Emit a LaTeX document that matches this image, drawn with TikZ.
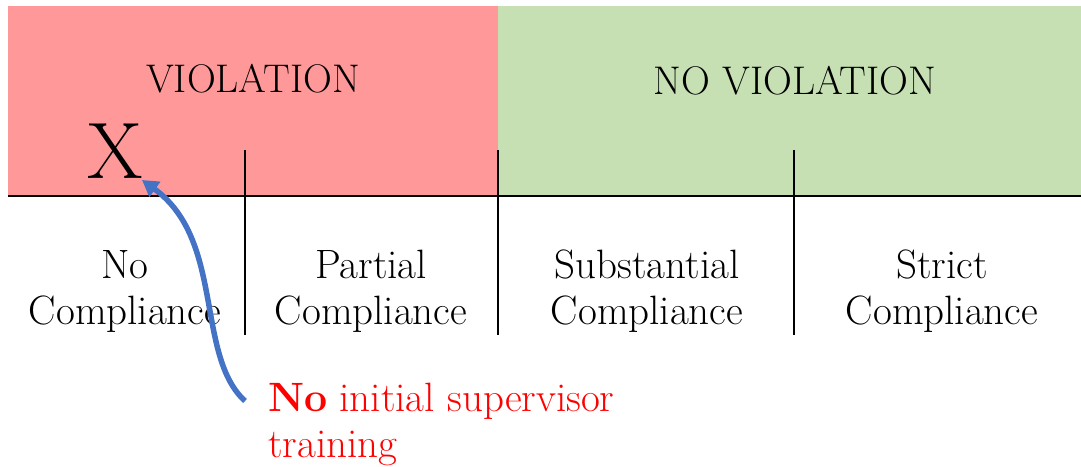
\documentclass[tikz,border=0pt]{standalone}
\usetikzlibrary{arrows.meta}
\definecolor{violred}{HTML}{FF9999}
\definecolor{okgreen}{HTML}{C6E0B4}
\definecolor{arrowblue}{HTML}{4472C4}
\begin{document}
\begin{tikzpicture}[x=1pt,y=-1pt,
  lab/.style={align=center,font=\fontsize{41}{46}\selectfont,inner sep=0pt},
  head/.style={font=\fontsize{40}{46}\selectfont,inner sep=0pt},
  divider/.style={line width=1.6pt}]
\useasboundingbox (0,0) rectangle (1081,466);
\fill[violred] (8,6) rectangle (498,195);
\fill[okgreen] (498,6) rectangle (1081,195);
\draw[divider] (8,196) -- (1081,196);
\draw[divider] (245,150) -- (245,335);
\draw[divider] (498,150) -- (498,335);
\draw[divider] (794,150) -- (794,335);
\node[head] (viol) at (253,79) {VIOLATION};
\node[head] (noviol) at (795,81) {NO VIOLATION};
\node[inner sep=0pt,font=\fontsize{80}{88}\selectfont] (x) at (115,151) {X};
\node[lab] (nc) at (125,291) {No\\Compliance};
\node[lab] (pc) at (371,291) {Partial\\Compliance};
\node[lab] (sc) at (647,291) {Substantial\\Compliance};
\node[lab] (stc) at (942,291) {Strict\\Compliance};
\node[lab,align=left,anchor=north west,text=red] (note) at (268,383) {\textbf{No} initial supervisor\\training};
\coordinate (tip) at (142,180);
\coordinate (start) at (245,401);
\draw[arrowblue,line width=5.5pt,-{Triangle[length=16pt,width=18pt]}]
  (start) .. controls (195,355) and (225,240) .. (tip);
\end{tikzpicture}
\end{document}
